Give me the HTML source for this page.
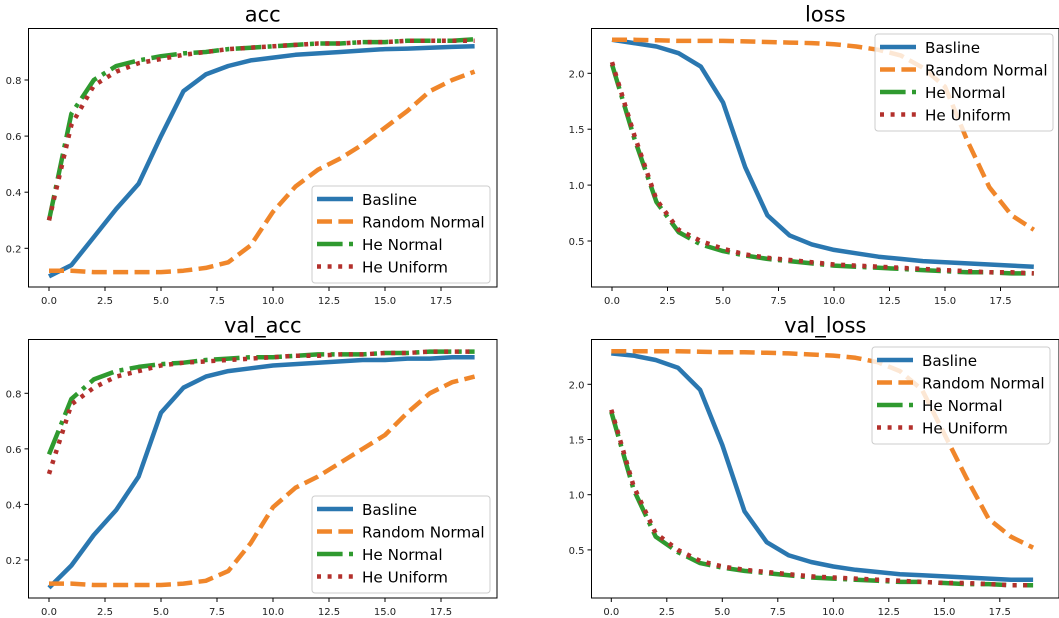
<!DOCTYPE html>
<html><head><meta charset="utf-8"><style>
body{margin:0;background:#fff;}
svg{display:block;font-family:"DejaVu Sans","Liberation Sans",sans-serif;}
</style></head><body>
<svg id="fig" width="1059" height="618" viewBox="0 0 1059 618" xmlns="http://www.w3.org/2000/svg"></svg>
<script>
const epochs=[0,1,2,3,4,5,6,7,8,9,10,11,12,13,14,15,16,17,18,19];
const seriesNames=["Basline","Random Normal","He Normal","He Uniform"];
const xTicks=[0,2.5,5,7.5,10,12.5,15,17.5];
const xTickLabels=["0.0","2.5","5.0","7.5","10.0","12.5","15.0","17.5"];
const accTicks=[0.2,0.4,0.6,0.8];
const accTickLabels=["0.2","0.4","0.6","0.8"];
const lossTicks=[0.5,1.0,1.5,2.0];
const lossTickLabels=["0.5","1.0","1.5","2.0"];

const accBase=[0.10,0.14,0.24,0.34,0.43,0.60,0.76,0.82,0.85,0.87,0.88,0.89,0.895,0.90,0.905,0.91,0.912,0.915,0.918,0.92];
const accRand=[0.12,0.12,0.115,0.115,0.115,0.115,0.12,0.13,0.15,0.21,0.33,0.42,0.48,0.52,0.57,0.63,0.69,0.76,0.80,0.83];
const accHeN=[0.30,0.68,0.80,0.85,0.87,0.885,0.895,0.90,0.91,0.915,0.92,0.925,0.93,0.93,0.935,0.935,0.94,0.94,0.94,0.945];
const accHeU=[0.30,0.64,0.78,0.83,0.86,0.875,0.89,0.90,0.91,0.915,0.92,0.925,0.93,0.93,0.935,0.935,0.94,0.94,0.94,0.94];

const lossBase=[2.30,2.27,2.24,2.18,2.06,1.74,1.16,0.73,0.55,0.47,0.42,0.39,0.36,0.34,0.32,0.31,0.30,0.29,0.28,0.27];
const lossRand=[2.30,2.30,2.295,2.29,2.29,2.29,2.285,2.28,2.275,2.27,2.26,2.24,2.21,2.16,2.05,1.88,1.40,0.98,0.73,0.60];
const lossHeN=[2.08,1.42,0.85,0.58,0.47,0.41,0.37,0.34,0.32,0.30,0.28,0.27,0.26,0.25,0.24,0.23,0.22,0.22,0.21,0.21];
const lossHeU=[2.10,1.45,0.87,0.60,0.50,0.43,0.38,0.35,0.33,0.31,0.29,0.28,0.27,0.26,0.25,0.24,0.23,0.22,0.22,0.21];

const vaccBase=[0.10,0.18,0.29,0.38,0.50,0.73,0.82,0.86,0.88,0.89,0.90,0.905,0.91,0.915,0.92,0.92,0.925,0.925,0.93,0.93];
const vaccRand=[0.115,0.115,0.11,0.11,0.11,0.11,0.115,0.125,0.16,0.26,0.39,0.46,0.50,0.55,0.60,0.65,0.73,0.80,0.84,0.86];
const vaccHeN=[0.58,0.78,0.85,0.88,0.895,0.905,0.91,0.92,0.925,0.93,0.93,0.935,0.94,0.94,0.94,0.945,0.945,0.95,0.95,0.95];
const vaccHeU=[0.51,0.76,0.82,0.86,0.88,0.90,0.91,0.915,0.92,0.925,0.93,0.935,0.935,0.94,0.94,0.945,0.945,0.95,0.95,0.95];

const vlossBase=[2.28,2.26,2.22,2.15,1.95,1.45,0.85,0.57,0.45,0.39,0.35,0.32,0.30,0.28,0.27,0.26,0.25,0.24,0.23,0.23];
const vlossRand=[2.30,2.30,2.30,2.30,2.295,2.29,2.29,2.285,2.28,2.27,2.26,2.24,2.20,2.12,1.95,1.55,1.15,0.78,0.62,0.52];
const vlossHeN=[1.75,1.05,0.62,0.48,0.38,0.34,0.31,0.29,0.27,0.25,0.24,0.23,0.22,0.21,0.21,0.20,0.19,0.19,0.18,0.18];
const vlossHeU=[1.77,1.08,0.65,0.50,0.40,0.35,0.32,0.30,0.28,0.26,0.25,0.24,0.23,0.22,0.21,0.20,0.20,0.19,0.18,0.18];

const NS="http://www.w3.org/2000/svg";
const svg=document.getElementById('fig');
const colors=["#2a77b0","#f0862a","#2f9a2f","#b3302c"];
const dashes=["none","15,6.4","25.6,6.4,4,6.4","4,6.6"];
function mk(tag,attrs,parent){const e=document.createElementNS(NS,tag);for(const k in attrs)e.setAttribute(k,attrs[k]);(parent||svg).appendChild(e);return e;}

function panel(cfg){
  const g=mk('g',{});
  
  
  const L=cfg.left,T=cfg.top,R=cfg.right,B=cfg.bottom;
  const x=v=>cfg.x0+v*cfg.xs;
  const y=v=>cfg.y0-(v-cfg.yRef)*cfg.ys;
  const t=mk('text',{x:(L+R)/2,y:T-7,'text-anchor':'middle','font-size':21,fill:'#000'},g);
  t.textContent=cfg.name;
  
  
  const clipId='clip-'+cfg.name;
  const cp=mk('clipPath',{id:clipId},g);mk('rect',{x:L,y:T,width:R-L,height:B-T},cp);
  cfg.series.forEach((d,i)=>{
    const pts=epochs.map((e,j)=>x(e).toFixed(1)+','+y(d[j]).toFixed(1)).join(' ');
    const p=mk('polyline',{points:pts,fill:'none',stroke:colors[i],'stroke-width':4.5,'stroke-dasharray':dashes[i],'clip-path':'url(#'+clipId+')','stroke-linejoin':'round'},g);
    
    
  });
  const f=mk('rect',{x:L,y:T,width:R-L,height:B-T,fill:'none',stroke:'#000','stroke-width':1},g);
  
  
  xTicks.forEach((v,i)=>{
    mk('line',{x1:x(v),x2:x(v),y1:B,y2:B+4,stroke:'#000'},g);
    const tl=mk('text',{x:x(v),y:B+17,'text-anchor':'middle','font-size':10,fill:'#222'},g);
    tl.textContent=xTickLabels[i];
    
    
  });
  cfg.yTicks.forEach((v,i)=>{
    mk('line',{x1:L-4,x2:L,y1:y(v),y2:y(v),stroke:'#000'},g);
    const tl=mk('text',{x:L-7,y:y(v)+4,'text-anchor':'end','font-size':10,fill:'#222'},g);
    tl.textContent=cfg.yLabels[i];
    
    
  });
  const lg=mk('g',{},g);
  
  
  const lx=cfg.legX,ly=cfg.legY;
  mk('rect',{x:lx,y:ly,width:178,height:97,rx:3,fill:'rgba(255,255,255,0.8)',stroke:'#ccc'},lg);
  seriesNames.forEach((n,i)=>{
    const yy=ly+13+i*22.5;
    mk('line',{x1:lx+5,x2:lx+41,y1:yy,y2:yy,stroke:colors[i],'stroke-width':4.5,'stroke-dasharray':dashes[i]},lg);
    const tt=mk('text',{x:lx+50,y:yy+6,'font-size':15.2,fill:'#000'},lg);
    tt.textContent=n;
    
    
  });
}
panel({name:'acc',left:28.5,top:28.5,right:497,bottom:287,x0:49,xs:22.4,y0:80,yRef:0.8,ys:280.5,yTicks:accTicks,yLabels:accTickLabels,series:[accBase,accRand,accHeN,accHeU],legX:312,legY:186});
panel({name:'loss',left:591.5,top:28.5,right:1059,bottom:287,x0:612,xs:22.2,y0:73.3,yRef:2.0,ys:111.8,yTicks:lossTicks,yLabels:lossTickLabels,series:[lossBase,lossRand,lossHeN,lossHeU],legX:875,legY:34});
panel({name:'val_acc',left:28.5,top:339.5,right:497,bottom:598,x0:49,xs:22.4,y0:393.3,yRef:0.8,ys:277.8,yTicks:accTicks,yLabels:accTickLabels,series:[vaccBase,vaccRand,vaccHeN,vaccHeU],legX:312,legY:496});
panel({name:'val_loss',left:591.5,top:339.5,right:1059,bottom:598,x0:611.3,xs:22.2,y0:384.3,yRef:2.0,ys:110.4,yTicks:lossTicks,yLabels:lossTickLabels,series:[vlossBase,vlossRand,vlossHeN,vlossHeU],legX:872,legY:347});
</script>
</body></html>
